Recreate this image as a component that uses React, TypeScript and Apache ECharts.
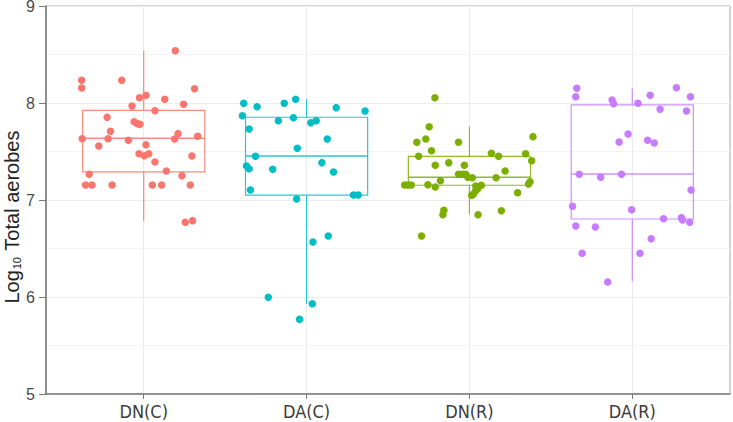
import React, { useEffect, useRef } from "react";
import * as echarts from "echarts";

const categories = ["DN(C)", "DA(C)", "DN(R)", "DA(R)"];
const colors = ["#F8766D", "#00BFC4", "#7CAE00", "#C77CFF"];
const yTicks = [5, 6, 7, 8, 9];
const yTitle = "{n|Log}{s|10}{n| Total aerobes}";

// box stats: [low whisker, Q1, median, Q3, high whisker]
const boxDNC = [6.78, 7.29, 7.636, 7.925, 8.54];
const boxDAC = [5.93, 7.05, 7.454, 7.853, 8.04];
const boxDNR = [6.856, 7.152, 7.234, 7.45, 7.756];
const boxDAR = [6.16, 6.804, 7.268, 7.98, 8.15];

// jittered points: horizontal offset from the category centre, and value
const dncJitter = [0.194, -0.381, -0.381, -0.135, 0.312, 0.014, -0.026, 0.129, 0.245, -0.072, 0.069, -0.225, -0.059, -0.039, -0.023, -0.204, 0.211, -0.378, -0.219, -0.094, 0.19, 0.331, -0.276, 0.014, -0.029, 0.004, 0.031, 0.069, 0.296, 0.139, -0.335, 0.235, -0.357, -0.318, -0.194, 0.053, 0.11, 0.286, 0.255, 0.3];
const dncValues = [8.539, 8.234, 8.155, 8.234, 8.147, 8.079, 8.055, 8.038, 7.987, 7.969, 7.921, 7.853, 7.807, 7.787, 7.78, 7.708, 7.684, 7.632, 7.632, 7.615, 7.629, 7.657, 7.557, 7.57, 7.477, 7.457, 7.477, 7.392, 7.454, 7.299, 7.265, 7.251, 7.155, 7.155, 7.155, 7.155, 7.155, 7.155, 6.77, 6.787];

const dacJitter = [-0.386, -0.304, -0.137, -0.067, 0.182, 0.359, -0.394, -0.173, -0.081, 0.026, 0.059, -0.353, 0.127, -0.057, -0.314, -0.369, -0.353, -0.208, 0.094, 0.165, -0.345, -0.061, 0.288, 0.317, 0.039, 0.133, -0.235, 0.035, -0.043];
const dacValues = [7.997, 7.962, 7.997, 8.038, 7.952, 7.918, 7.869, 7.818, 7.848, 7.797, 7.818, 7.732, 7.629, 7.533, 7.451, 7.351, 7.323, 7.316, 7.385, 7.289, 7.103, 7.01, 7.052, 7.052, 6.567, 6.629, 5.997, 5.931, 5.77];

const dnrJitter = [-0.212, -0.247, -0.323, -0.268, -0.067, 0.39, -0.233, -0.312, 0.135, 0.179, 0.345, 0.382, -0.21, -0.127, -0.031, 0.219, -0.067, -0.043, -0.023, -0.01, 0.018, 0.164, -0.178, -0.398, -0.378, -0.357, -0.255, -0.21, 0.372, 0.363, 0.039, 0.073, 0.051, 0.037, 0.024, 0.014, 0.296, -0.157, -0.163, 0.053, 0.196, -0.294];
const dnrValues = [8.055, 7.756, 7.595, 7.629, 7.595, 7.653, 7.508, 7.451, 7.481, 7.451, 7.477, 7.405, 7.358, 7.385, 7.358, 7.299, 7.265, 7.265, 7.265, 7.234, 7.23, 7.23, 7.199, 7.155, 7.155, 7.155, 7.158, 7.134, 7.189, 7.165, 7.144, 7.152, 7.116, 7.093, 7.059, 7.048, 7.075, 6.894, 6.848, 6.848, 6.89, 6.629];

const darJitter = [-0.341, -0.347, -0.124, -0.115, 0.11, 0.271, 0.357, 0.035, 0.171, 0.333, -0.026, -0.081, 0.094, 0.135, -0.326, -0.194, -0.066, 0.361, -0.367, -0.004, -0.347, -0.227, 0.192, 0.302, 0.308, 0.353, 0.116, -0.308, 0.047, -0.151];
const darValues = [8.152, 8.065, 8.031, 7.993, 8.079, 8.158, 8.065, 7.997, 7.935, 7.918, 7.68, 7.598, 7.615, 7.588, 7.265, 7.234, 7.265, 7.103, 6.935, 6.9, 6.732, 6.722, 6.807, 6.818, 6.794, 6.77, 6.601, 6.451, 6.451, 6.155];

const boxes = [boxDNC, boxDAC, boxDNR, boxDAR];
const jitters = [dncJitter, dacJitter, dnrJitter, darJitter];
const values = [dncValues, dacValues, dnrValues, darValues];

const catPos = [1, 2, 3, 4];
const BOX_WIDTH = 0.75;
const FONT = "'Liberation Sans', Arial, sans-serif";
const NARROW = "'Liberation Sans Narrow', 'Arial Narrow', 'DejaVu Sans Condensed', sans-serif";

export default function App() {
  const ref = useRef<HTMLDivElement>(null);

  useEffect(() => {
    if (!ref.current) return;
    const chart = echarts.init(ref.current, undefined, { renderer: "svg" });

    const boxSeries = boxes.map((b, i) => ({
      type: "custom",
      silent: true,
      z: 2,
      data: [[catPos[i], ...b]],
      encode: { x: 0, y: [1, 2, 3, 4, 5] },
      renderItem: (params: any, api: any) => {
        const x = api.value(0);
        const lo = api.coord([x, api.value(1)]);
        const q1 = api.coord([x, api.value(2)]);
        const med = api.coord([x, api.value(3)]);
        const q3 = api.coord([x, api.value(4)]);
        const hi = api.coord([x, api.value(5)]);
        const left = api.coord([x - BOX_WIDTH / 2, api.value(3)])[0];
        const right = api.coord([x + BOX_WIDTH / 2, api.value(3)])[0];
        const stroke = { stroke: colors[i], lineWidth: 1.2, fill: "none", opacity: 0.85 };
        return {
          type: "group",
          children: [
            { type: "line", shape: { x1: hi[0], y1: hi[1], x2: q3[0], y2: q3[1] }, style: stroke },
            { type: "line", shape: { x1: q1[0], y1: q1[1], x2: lo[0], y2: lo[1] }, style: stroke },
            {
              type: "rect",
              shape: { x: left, y: q3[1], width: right - left, height: q1[1] - q3[1] },
              style: stroke,
            },
            { type: "line", shape: { x1: left, y1: med[1], x2: right, y2: med[1] }, style: { ...stroke, lineWidth: 1.5 } },
          ],
        };
      },
    }));

    const pointSeries = values.map((vals, i) => ({
      type: "scatter",
      z: 3,
      symbol: "circle",
      symbolSize: 7.5,
      itemStyle: { color: colors[i], opacity: 1 },
      data: vals.map((v, k) => [catPos[i] + jitters[i][k], v]),
    }));

    chart.setOption({
      animation: false,
      grid: {
        left: 46,
        right: 3,
        top: 6,
        bottom: 28,
        containLabel: false,
        outerBoundsMode: "none",
        show: true,
        borderColor: "#aaaaaa",
        borderWidth: 1,
        backgroundColor: "transparent",
      },
      graphic: [
        {
          type: "text",
          x: 11,
          y: 217,
          rotation: Math.PI / 2,
          silent: true,
          style: {
            text: yTitle,
            align: "center",
            verticalAlign: "middle",
            rich: {
              n: { fontFamily: FONT, fontSize: 20, fill: "#222", lineHeight: 22, verticalAlign: "bottom" },
              s: { fontFamily: FONT, fontSize: 11, fill: "#222", lineHeight: 22, verticalAlign: "bottom", padding: [0, 1, 0, 1] },
            },
          },
        },
      ],
      xAxis: {
        type: "value",
        min: 0.4,
        max: 4.6,
        axisLine: { show: true, onZero: false, lineStyle: { color: "#777", width: 1.5 } },
        axisTick: { show: true, customValues: catPos, length: 5, lineStyle: { color: "#777" } },
        axisLabel: {
          customValues: catPos,
          formatter: (v: number) => categories[Math.round(v) - 1] ?? "",
          fontFamily: NARROW,
          fontSize: 18,
          color: "#3c3c3c",
          margin: 8,
        },
        splitLine: { show: true, lineStyle: { color: "#ececec", width: 1 } },
      },
      yAxis: {
        type: "value",
        min: 5,
        max: 9,
        interval: 1,
        axisLine: { show: true, lineStyle: { color: "#777", width: 1.5 } },
        axisTick: { show: true, length: 7, lineStyle: { color: "#777" } },
        axisLabel: {
          fontFamily: FONT,
          fontSize: 16,
          color: "#4a4a4a",
          margin: 11,
          formatter: (v: number) => (yTicks.includes(v) ? String(v) : ""),
        },
        splitLine: { show: true, lineStyle: { color: "#ececec", width: 1 } },
        minorTick: { show: false, splitNumber: 2 },
        minorSplitLine: { show: true, lineStyle: { color: "#f4f4f4", width: 1 } },
      },
      series: [...boxSeries, ...pointSeries],
    });

    return () => chart.dispose();
  }, []);

  return (
    <div
      ref={ref}
      style={{ position: "absolute", left: 0, top: 0, width: 733, height: 422 }}
    />
  );
}
